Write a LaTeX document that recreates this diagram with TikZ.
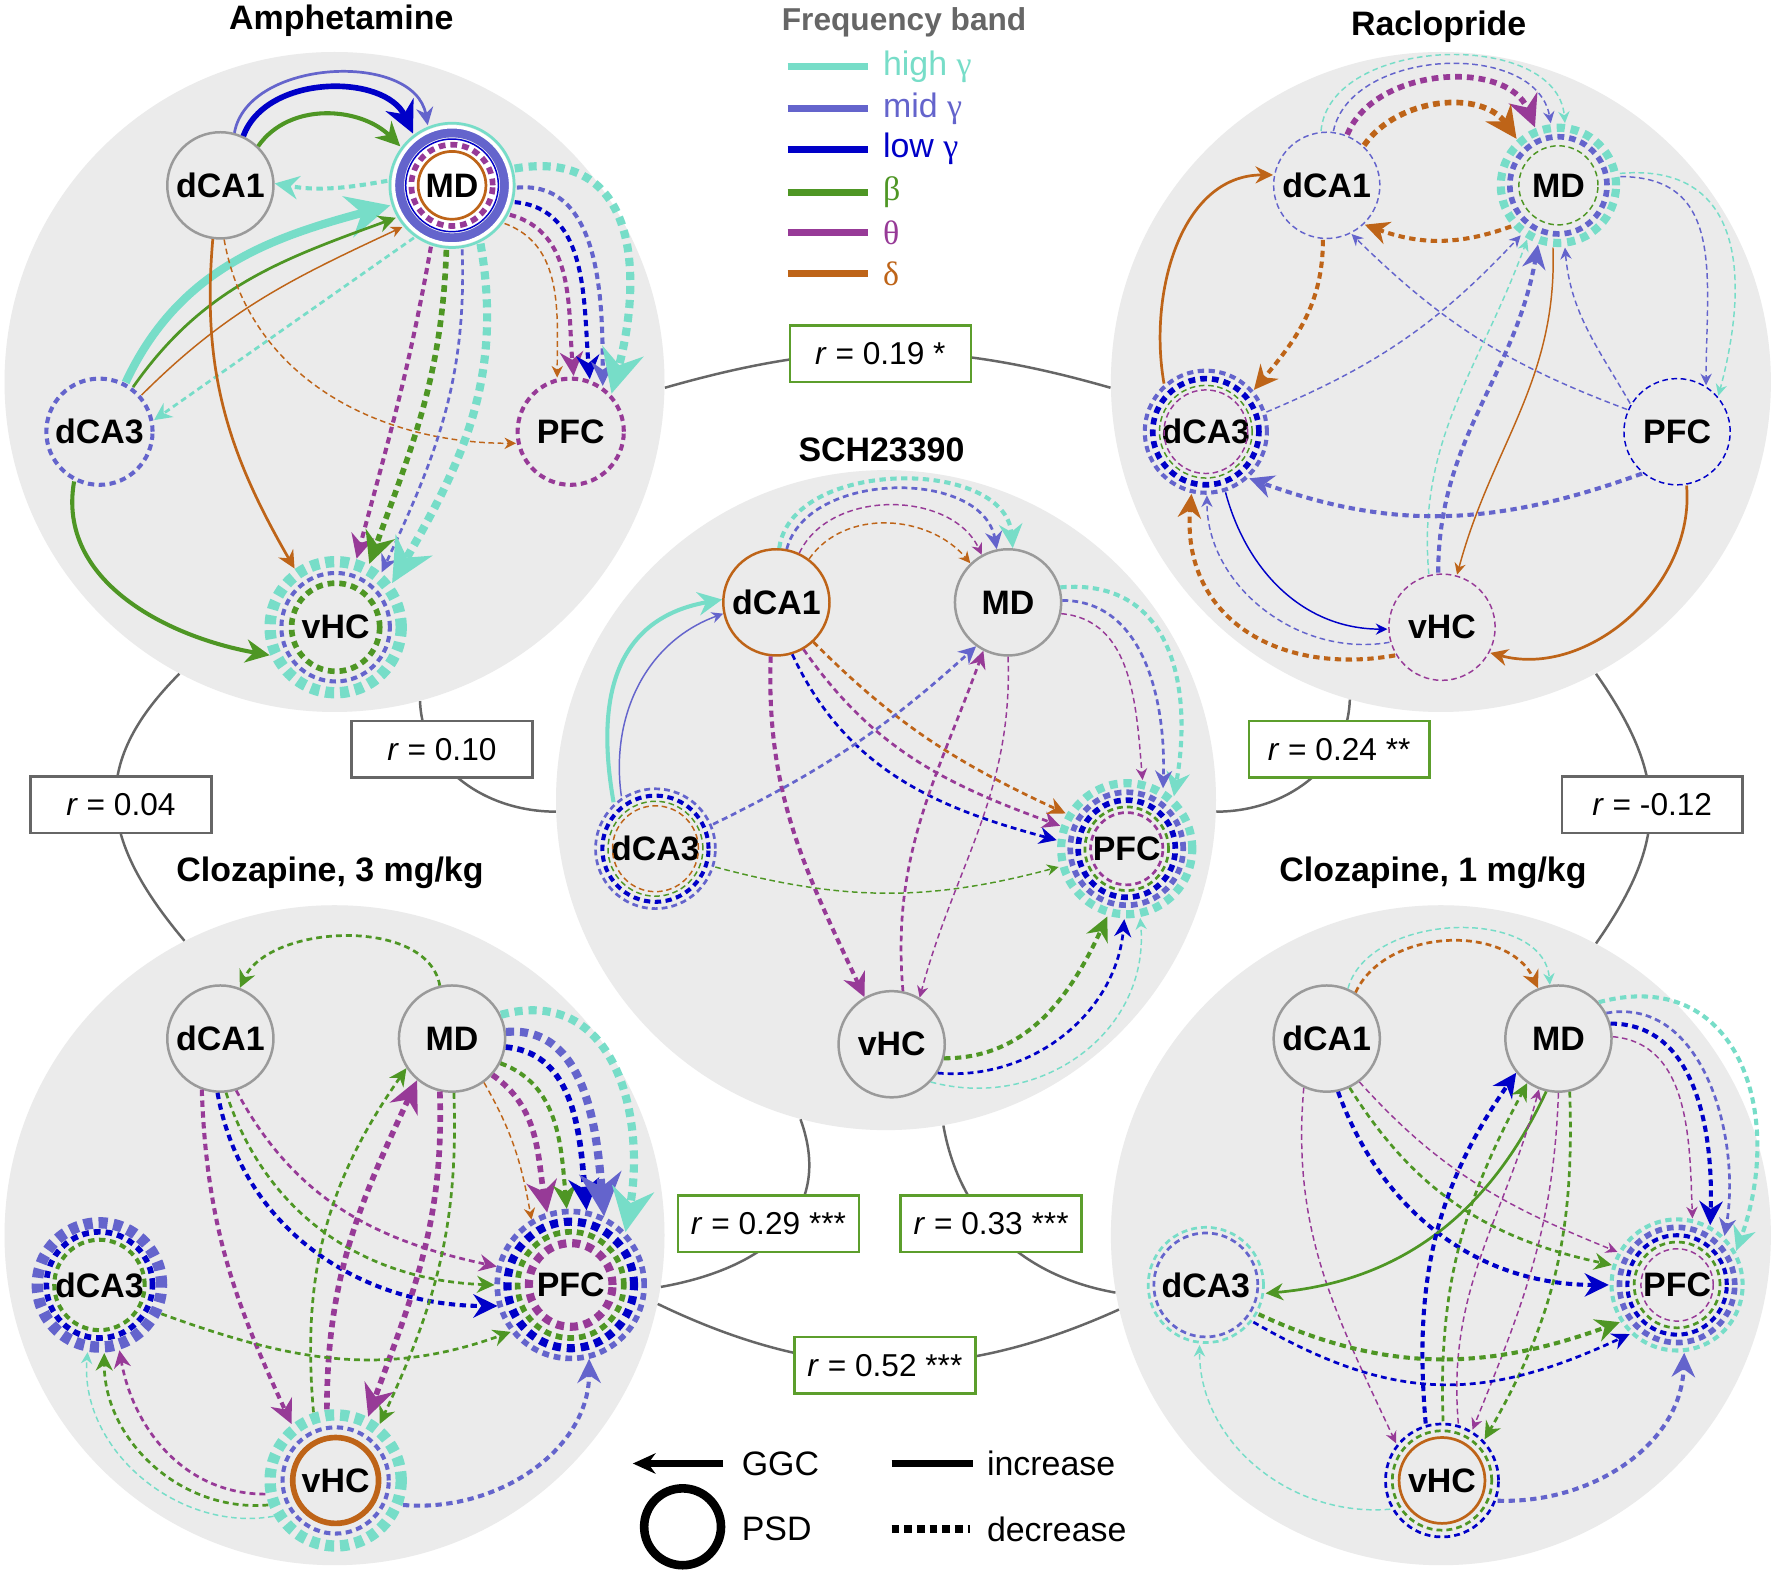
\documentclass[tikz,border=0pt]{standalone}
\usepackage{fontspec}
\setmainfont{Liberation Sans}
\newfontfamily\grk{Liberation Serif}
\usetikzlibrary{arrows.meta}
\definecolor{chg}{HTML}{77DDC8}
\definecolor{cmg}{HTML}{6464CC}
\definecolor{clg}{HTML}{0000C8}
\definecolor{cbe}{HTML}{4E9624}
\definecolor{cth}{HTML}{973A97}
\definecolor{cde}{HTML}{BE6418}
\definecolor{cgr}{HTML}{9A9A9A}
\definecolor{cbg}{HTML}{EBEBEB}
\definecolor{ccon}{HTML}{666666}
\definecolor{cbox}{HTML}{5C9E2C}
\newcommand\ringc[3]{\draw[#1] (#2.center) circle[radius=#3*0.5pt];}
\begin{document}
\begin{tikzpicture}[x=0.5pt,y=-0.5pt,
  HG/.style={draw=chg}, MG/.style={draw=cmg}, LG/.style={draw=clg},
  BE/.style={draw=cbe}, TH/.style={draw=cth}, DE/.style={draw=cde},
  S1/.style={line width=0.65pt}, S2/.style={line width=1.2pt}, S3/.style={line width=1.8pt},
  S4/.style={line width=2.5pt}, S5/.style={line width=3.6pt}, S6/.style={line width=5pt},
  D1/.style={S1,dash pattern=on 2.5pt off 1.6pt},
  D2/.style={S2,dash pattern=on 2.6pt off 1.8pt},
  D3/.style={S3,dash pattern=on 2.8pt off 2pt},
  D4/.style={S4,dash pattern=on 3pt off 2.2pt},
  D5/.style={S5,dash pattern=on 3.6pt off 2.6pt},
  D6/.style={S6,dash pattern=on 4pt off 2.6pt},
  AR/.style={-{Stealth[length=2pt 4.8,width=2pt 4.6]}},
  panel/.style={circle,fill=cbg,draw=none,minimum size=292pt,inner sep=0pt},
  nd/.style={circle,inner sep=0pt,font=\bfseries\fontsize{15}{15}\selectfont},
  pl/.style={nd,draw=cgr,line width=1.1pt,minimum size=47pt},
  ttl/.style={font=\bfseries\fontsize{15}{15}\selectfont,inner sep=0pt},
  conn/.style={draw=ccon,line width=1.1pt},
  rbox/.style={draw=#1,line width=1.1pt,fill=white,minimum width=80pt,minimum height=25pt,inner sep=0pt,font=\fontsize{14}{14}\selectfont},
  leg/.style={anchor=west,inner sep=0pt,font=\fontsize{15}{15}\selectfont},
]
\useasboundingbox (0,0) rectangle (1568,1394);
\fill[white] (0,0) rectangle (1568,1394);

% panels
\node[panel] (pA) at (296,338) {};
\node[panel] (pR) at (1275,338) {};
\node[panel] (pS) at (784,708) {};
\node[panel] (pC3) at (296,1093) {};
\node[panel] (pC1) at (1275,1093) {};

% inter-panel connectors
\draw[conn] (pA.-1.5) to[bend left=16] (pR.181.5);
\draw[conn] (pA.-75) to[out=-88,in=180] (pS.182);
\draw[conn] (pA.242) to[out=225,in=130,looseness=1.25] (pC3.117);
\draw[conn] (pR.-106) to[out=-92,in=0] (pS.-2);
\draw[conn] (pR.-62) to[out=-55,in=55,looseness=1.2] (pC1.62);
\draw[conn] (pS.-105) to[out=-70,in=10,looseness=1.2] (pC3.-9);
\draw[conn] (pS.-80) to[out=-80,in=170] (pC1.190);
\draw[conn] (pC3.-12) to[bend right=25] (pC1.193);

\node[rbox=cbox] (b19) at (779,313) {\textit{r} = 0.19 *};
\node[rbox=ccon] (b10) at (391,663) {\textit{r} = 0.10};
\node[rbox=ccon] (b04) at (107,712) {\textit{r} = 0.04};
\node[rbox=cbox] (b24) at (1185,663) {\textit{r} = 0.24 **};
\node[rbox=ccon] (bm12) at (1462,712) {\textit{r} = -0.12};
\node[rbox=cbox] (b29) at (680,1083) {\textit{r} = 0.29 ***};
\node[rbox=cbox] (b33) at (877,1083) {\textit{r} = 0.33 ***};
\node[rbox=cbox] (b52) at (783,1208) {\textit{r} = 0.52 ***};

% titles
\node[ttl] (tA) at (302,18) {Amphetamine};
\node[ttl] (tR) at (1273,24) {Raclopride};
\node[ttl] (tS) at (780,398) {SCH23390};
\node[ttl] (tC3) at (292,772) {Clozapine, 3 mg/kg};
\node[ttl] (tC1) at (1268,772) {Clozapine, 1 mg/kg};

% legend: frequency band
\node[inner sep=0pt,text=ccon,font=\bfseries\fontsize{14}{14}\selectfont] (fb) at (800,20) {Frequency band};
\foreach \y/\c/\n/\t in {59/chg/l1/{high {\grk γ}},96/cmg/l2/{mid {\grk γ}},132/clg/l3/{low {\grk γ}},170/cbe/l4/{{\grk β}},206/cth/l5/{{\grk θ}},242/cde/l6/{{\grk δ}}}{
  \coordinate (\n a) at (697,\y);
  \coordinate (\n b) at (768,\y);
  \draw[draw=\c,line width=3pt] (\n a) -- (\n b);
  \node[leg,text=\c] (\n t) at (781,\y) {\t};
}

% legend: bottom
\coordinate (ga) at (640,1295);
\coordinate (gb) at (560,1295);
\draw[line width=2.8pt,-{Stealth[length=10pt,width=9pt]}] (ga) -- (gb);
\node[leg] (ggc) at (656,1295) {GGC};
\node[circle,draw=black,line width=3.8pt,minimum size=34pt,inner sep=0pt] (psdc) at (604,1351) {};
\node[leg] (psd) at (656,1353) {PSD};
\coordinate (ia) at (789,1295);
\coordinate (ib) at (861,1295);
\draw[line width=3.2pt] (ia) -- (ib);
\node[leg] (inc) at (873,1295) {increase};
\coordinate (da) at (789,1353);
\coordinate (db) at (858,1353);
\draw[line width=3.2pt,dash pattern=on 3.4pt off 2.2pt] (da) -- (db);
\node[leg] (dec) at (873,1353) {decrease};

%================ Amphetamine
\begin{scope}
\fill[white] (400,164) circle[radius=21pt];
\node[pl] (A-dCA1) at (195,164) {dCA1};
\node[nd,minimum size=57pt] (A-MD) at (400,164) {MD};
\node[nd,minimum size=49pt] (A-dCA3) at (88,382) {dCA3};
\node[nd,minimum size=49pt] (A-PFC) at (505,382) {PFC};
\node[nd,minimum size=63pt] (A-vHC) at (297,555) {vHC};
\draw[MG,S2,AR] (A-dCA1.75) to[out=80,in=100] (A-MD.112);
\draw[LG,S4,AR] (A-dCA1.65) to[out=70,in=115] (A-MD.127);
\draw[BE,S3,AR] (A-dCA1.46) to[out=55,in=135] (A-MD.143);
\draw[HG,D3,AR] (A-MD.176) to[out=190,in=-10] (A-dCA1.2);
\draw[HG,S5,AR] (A-dCA3.62) to[out=65,in=195] (A-MD.198);
\draw[BE,S2,AR] (A-dCA3.53) to[out=55,in=200] (A-MD.210);
\draw[DE,S1,AR] (A-dCA3.41) to[out=45,in=205] (A-MD.220);
\draw[HG,D2,AR] (A-MD.234) -- (A-dCA3.12);
\draw[DE,S2,AR] (A-dCA1.-98) to[out=-95,in=120] (A-vHC.125);
\draw[DE,D1,AR] (A-dCA1.-86) to[out=-80,in=180] (A-PFC.-168);
\draw[BE,S3,AR] (A-dCA3.-117) to[out=-100,in=170] (A-vHC.-157);
\draw[TH,D3,AR] (A-MD.-109) to[out=-100,in=75] (A-vHC.73);
\draw[BE,D4,AR] (A-MD.-95) to[out=-92,in=70] (A-vHC.62);
\draw[MG,D2,AR] (A-MD.-81) to[out=-88,in=65] (A-vHC.50);
\draw[HG,D5,AR] (A-MD.-64) to[out=-80,in=60] (A-vHC.38);
\draw[DE,D1,AR] (A-MD.-36) to[out=-20,in=90] (A-PFC.104);
\draw[TH,D3,AR] (A-MD.-27) to[out=-15,in=95] (A-PFC.87);
\draw[LG,D3,AR] (A-MD.-15) to[out=-5,in=95] (A-PFC.70);
\draw[MG,D3,AR] (A-MD.-2) to[out=5,in=90] (A-PFC.55);
\draw[HG,D5,AR] (A-MD.15) to[out=10,in=75,looseness=1.3] (A-PFC.43);
\ringc{DE,S2}{A-MD}{30}
\ringc{TH,D4}{A-MD}{36}
\ringc{LG,S1}{A-MD}{41}
\ringc{MG,line width=4.5pt}{A-MD}{47}
\ringc{draw=white,line width=1.5pt}{A-MD}{51.8}
\ringc{HG,S2}{A-MD}{55}
\ringc{MG,D3}{A-dCA3}{47}
\ringc{TH,D3}{A-PFC}{47}
\ringc{BE,D4}{A-vHC}{39}
\ringc{MG,D3}{A-vHC}{48}
\ringc{HG,D6}{A-vHC}{58}
\end{scope}

%================ Raclopride
\begin{scope}[shift={(979,0)}]
\node[nd,minimum size=48pt] (R-dCA1) at (195,164) {dCA1};
\node[nd,minimum size=55pt] (R-MD) at (400,164) {MD};
\node[nd,minimum size=56pt] (R-dCA3) at (88,382) {dCA3};
\node[nd,minimum size=48pt] (R-PFC) at (505,382) {PFC};
\node[nd,minimum size=48pt] (R-vHC) at (297,555) {vHC};
\draw[HG,D1,AR] (R-dCA1.96) to[out=85,in=95] (R-MD.84);
\draw[MG,D1,AR] (R-dCA1.83) to[out=78,in=100] (R-MD.97);
\draw[TH,D4,AR] (R-dCA1.68) to[out=68,in=112] (R-MD.112);
\draw[DE,D4,AR] (R-dCA1.47) to[out=55,in=125] (R-MD.132);
\draw[DE,D3,AR] (R-MD.-139) to[out=-160,in=-20] (R-dCA1.-46);
\draw[DE,D3,AR] (R-dCA1.-94) to[out=-90,in=50] (R-dCA3.41);
\draw[DE,S2,AR] (R-dCA3.131) to[out=100,in=180] (R-dCA1.169);
\draw[MG,D1,AR] (R-PFC.156) to[bend left=12] (R-dCA1.-63);
\draw[MG,D1,AR] (R-dCA3.18) to[bend right=12] (R-MD.-127);
\draw[HG,D1,AR] (R-vHC.104) to[out=95,in=-110] (R-MD.-120);
\draw[MG,D3,AR] (R-vHC.94) to[out=90,in=-100] (R-MD.-109);
\draw[DE,S1,AR] (R-MD.-95) to[out=-88,in=75] (R-vHC.74);
\draw[MG,D1,AR] (R-PFC.149) to[out=120,in=-85] (R-MD.-84);
\draw[MG,D1,AR] (R-MD.8) to[out=0,in=90,looseness=1.2] (R-PFC.58);
\draw[HG,D1,AR] (R-MD.11) to[out=5,in=75,looseness=1.3] (R-PFC.41);
\draw[MG,D3,AR] (R-PFC.-130) to[out=-160,in=-20] (R-dCA3.-47);
\draw[DE,S2,AR] (R-PFC.-80) to[out=-85,in=-15] (R-vHC.-28);
\draw[LG,S1,AR] (R-dCA3.-72) to[out=-75,in=180] (R-vHC.182);
\draw[MG,D1,AR] (R-vHC.196) to[out=190,in=-90] (R-dCA3.-89);
\draw[DE,D3,AR] (R-vHC.211) to[out=190,in=-95,looseness=1.2] (R-dCA3.-103);
\ringc{MG,D1}{R-dCA1}{47}
\ringc{BE,D1}{R-MD}{35}
\ringc{MG,D4}{R-MD}{43}
\ringc{HG,D5}{R-MD}{51}
\ringc{TH,D1}{R-dCA3}{37}
\ringc{BE,D1}{R-dCA3}{41}
\ringc{LG,D4}{R-dCA3}{47}
\ringc{MG,D3}{R-dCA3}{54}
\ringc{LG,D1}{R-PFC}{47}
\ringc{TH,D1}{R-vHC}{47}
\end{scope}

%================ SCH23390
\begin{scope}[shift={(492,369)}]
\node[nd,draw=cde,line width=1.1pt,minimum size=47pt] (S-dCA1) at (195,164) {dCA1};
\node[pl] (S-MD) at (400,164) {MD};
\node[nd,minimum size=55pt] (S-dCA3) at (88,382) {dCA3};
\node[nd,minimum size=62pt] (S-PFC) at (505,382) {PFC};
\node[pl] (S-vHC) at (297,555) {vHC};
\draw[HG,D3,AR] (S-dCA1.87) to[out=82,in=95] (S-MD.85);
\draw[MG,D2,AR] (S-dCA1.79) to[out=75,in=100] (S-MD.102);
\draw[TH,D1,AR] (S-dCA1.65) to[out=65,in=115] (S-MD.119);
\draw[DE,D1,AR] (S-dCA1.53) to[out=55,in=130] (S-MD.134);
\draw[HG,S3,AR] (S-dCA3.132) to[out=100,in=190,looseness=1.2] (S-dCA1.177);
\draw[MG,S1,AR] (S-dCA3.123) to[out=98,in=200] (S-dCA1.192);
\draw[TH,D3,AR] (S-dCA1.-96) to[out=-92,in=115] (S-vHC.120);
\draw[LG,D2,AR] (S-dCA1.-73) to[out=-65,in=165] (S-PFC.173);
\draw[TH,D2,AR] (S-dCA1.-60) to[out=-55,in=160] (S-PFC.161);
\draw[DE,D2,AR] (S-dCA1.-47) to[out=-45,in=155] (S-PFC.150);
\draw[MG,D2,AR] (S-dCA3.23) to[bend right=8] (S-MD.-126);
\draw[BE,D1,AR] (S-dCA3.-17) to[out=-15,in=195] (S-PFC.195);
\draw[TH,D2,AR] (S-vHC.78) to[out=95,in=-110] (S-MD.-117);
\draw[TH,D1,AR] (S-MD.-90) to[out=-88,in=75] (S-vHC.59);
\draw[HG,D3,AR] (S-MD.16) to[out=5,in=80,looseness=1.2] (S-PFC.48);
\draw[MG,D2,AR] (S-MD.2) to[out=0,in=88] (S-PFC.59);
\draw[TH,D1,AR] (S-MD.-12) to[out=-5,in=95] (S-PFC.77);
\draw[BE,D3,AR] (S-vHC.-15) to[out=0,in=-115] (S-PFC.-106);
\draw[LG,D2,AR] (S-vHC.-32) to[out=-5,in=-95] (S-PFC.-92);
\draw[HG,D1,AR] (S-vHC.-44) to[out=-15,in=-85,looseness=1.1] (S-PFC.-79);
\ringc{DE,D1}{S-dCA3}{38}
\ringc{BE,D1}{S-dCA3}{42}
\ringc{LG,D3}{S-dCA3}{47}
\ringc{MG,D2}{S-dCA3}{53}
\ringc{TH,D2}{S-PFC}{32}
\ringc{BE,D2}{S-PFC}{37}
\ringc{LG,D4}{S-PFC}{43}
\ringc{MG,D4}{S-PFC}{50}
\ringc{HG,D5}{S-PFC}{58}
\end{scope}

%================ Clozapine 3 mg/kg
\begin{scope}[shift={(0,755)}]
\node[pl] (C3-dCA1) at (195,164) {dCA1};
\node[pl] (C3-MD) at (400,164) {MD};
\node[nd,minimum size=60pt] (C3-dCA3) at (88,382) {dCA3};
\node[nd,minimum size=67pt] (C3-PFC) at (505,382) {PFC};
\node[nd,minimum size=63pt] (C3-vHC) at (297,555) {vHC};
\draw[BE,D2,AR] (C3-MD.103) to[out=100,in=65,looseness=0.9] (C3-dCA1.69);
\draw[TH,D3,AR] (C3-dCA1.-110) to[out=-88,in=115] (C3-vHC.128);
\draw[LG,D3,AR] (C3-dCA1.-93) to[out=-80,in=180] (C3-PFC.196);
\draw[BE,D2,AR] (C3-dCA1.-84) to[out=-72,in=178] (C3-PFC.180);
\draw[TH,D2,AR] (C3-dCA1.-73) to[out=-62,in=168] (C3-PFC.166);
\draw[BE,D2,AR] (C3-vHC.108) to[out=95,in=-125] (C3-MD.-147);
\draw[TH,D4,AR] (C3-vHC.97) to[out=90,in=-115] (C3-MD.-130);
\draw[TH,D4,AR] (C3-MD.-103) to[out=-88,in=70] (C3-vHC.63);
\draw[BE,D2,AR] (C3-MD.-88) to[out=-88,in=65] (C3-vHC.52);
\draw[DE,D1,AR] (C3-MD.-54) to[out=-60,in=100] (C3-PFC.121);
\draw[TH,D4,AR] (C3-MD.-42) to[out=-35,in=100] (C3-PFC.108);
\draw[BE,D3,AR] (C3-MD.-27) to[out=-20,in=95] (C3-PFC.93);
\draw[LG,D4,AR] (C3-MD.-9) to[out=-5,in=95] (C3-PFC.78);
\draw[MG,D5,AR] (C3-MD.7) to[out=5,in=95] (C3-PFC.64);
\draw[HG,D5,AR] (C3-MD.26) to[out=15,in=80,looseness=1.2] (C3-PFC.44);
\draw[BE,D2,AR] (C3-dCA3.-25) to[out=-20,in=200] (C3-PFC.218);
\draw[HG,D1,AR] (C3-vHC.210) to[out=190,in=-95] (C3-dCA3.-100);
\draw[BE,D2,AR] (C3-vHC.200) to[out=185,in=-90] (C3-dCA3.-86);
\draw[TH,D2,AR] (C3-vHC.191) to[out=180,in=-80] (C3-dCA3.-73);
\draw[MG,D3,AR] (C3-vHC.-20) to[out=-5,in=-90] (C3-PFC.-76);
\ringc{BE,D3}{C3-dCA3}{40}
\ringc{LG,D4}{C3-dCA3}{47}
\ringc{MG,D6}{C3-dCA3}{55}
\ringc{TH,D5}{C3-PFC}{37}
\ringc{BE,D4}{C3-PFC}{47}
\ringc{LG,D5}{C3-PFC}{56}
\ringc{MG,D4}{C3-PFC}{65}
\ringc{DE,S4}{C3-vHC}{38}
\ringc{MG,D3}{C3-vHC}{47}
\ringc{HG,D6}{C3-vHC}{58}
\end{scope}

%================ Clozapine 1 mg/kg
\begin{scope}[shift={(979,755)}]
\node[pl] (C1-dCA1) at (195,164) {dCA1};
\node[pl] (C1-MD) at (400,164) {MD};
\node[nd,minimum size=53pt] (C1-dCA3) at (88,382) {dCA3};
\node[nd,minimum size=60pt] (C1-PFC) at (505,382) {PFC};
\node[nd,minimum size=52pt] (C1-vHC) at (297,555) {vHC};
\draw[HG,D1,AR] (C1-dCA1.67) to[out=75,in=95] (C1-MD.99);
\draw[DE,D2,AR] (C1-dCA1.58) to[out=65,in=115] (C1-MD.112);
\draw[TH,D1,AR] (C1-dCA1.-115) to[out=-95,in=115] (C1-vHC.141);
\draw[LG,D3,AR] (C1-dCA1.-78) to[out=-70,in=180] (C1-PFC.180);
\draw[BE,D2,AR] (C1-dCA1.-65) to[out=-58,in=168] (C1-PFC.163);
\draw[TH,D1,AR] (C1-dCA1.-53) to[out=-48,in=158] (C1-PFC.151);
\draw[BE,S2,AR] (C1-MD.-103) to[out=-115,in=5] (C1-dCA3.-8);
\draw[LG,D3,AR] (C1-vHC.106) to[out=95,in=-125] (C1-MD.-141);
\draw[BE,D2,AR] (C1-vHC.89) to[out=92,in=-118] (C1-MD.-125);
\draw[TH,D1,AR] (C1-vHC.74) to[out=95,in=-105] (C1-MD.-111);
\draw[TH,D1,AR] (C1-MD.-90) to[out=-92,in=68] (C1-vHC.59);
\draw[BE,D2,AR] (C1-MD.-78) to[out=-88,in=60] (C1-vHC.44);
\draw[HG,D3,AR] (C1-MD.42) to[out=15,in=70,looseness=1.3] (C1-PFC.30);
\draw[MG,D2,AR] (C1-MD.28) to[out=10,in=80] (C1-PFC.46);
\draw[LG,D3,AR] (C1-MD.16) to[out=0,in=88] (C1-PFC.61);
\draw[TH,D1,AR] (C1-MD.2) to[out=-5,in=92] (C1-PFC.77);
\draw[BE,D3,AR] (C1-dCA3.-29) to[out=-25,in=200] (C1-PFC.213);
\draw[LG,D2,AR] (C1-dCA3.-38) to[out=-30,in=205,looseness=1.1] (C1-PFC.226);
\draw[HG,D1,AR] (C1-vHC.209) to[out=185,in=-90] (C1-dCA3.-96);
\draw[MG,D3,AR] (C1-vHC.-20) to[out=-2,in=-92] (C1-PFC.-84);
\ringc{MG,D2}{C1-dCA3}{46}
\ringc{HG,D2}{C1-dCA3}{51}
\ringc{TH,D1}{C1-PFC}{32}
\ringc{BE,D2}{C1-PFC}{38}
\ringc{LG,D3}{C1-PFC}{44}
\ringc{MG,D4}{C1-PFC}{51}
\ringc{HG,D3}{C1-PFC}{58}
\ringc{DE,S2}{C1-vHC}{38}
\ringc{BE,D2}{C1-vHC}{44}
\ringc{LG,D2}{C1-vHC}{50}
\end{scope}
\end{tikzpicture}
\end{document}
